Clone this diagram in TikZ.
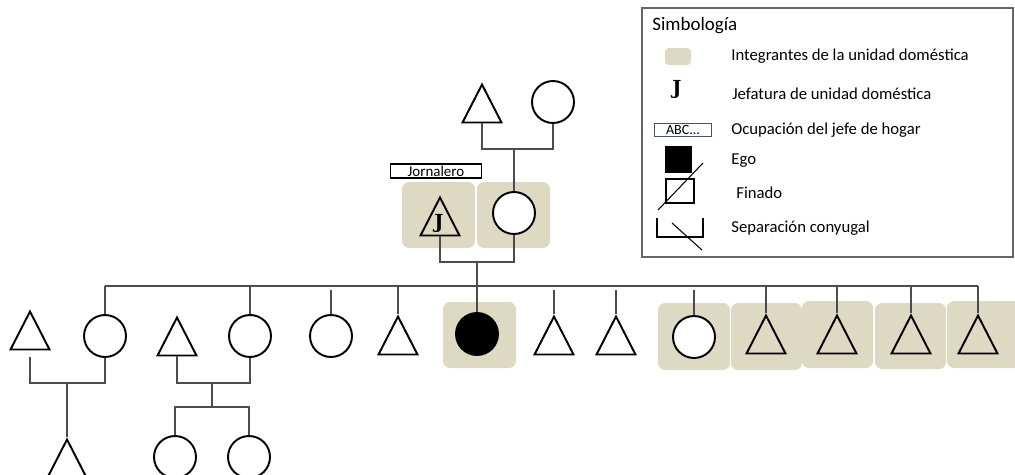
\documentclass[tikz,border=0pt]{standalone}
\usepackage{fontspec}
\setmainfont{Carlito}
\newfontfamily\jfont{DejaVu Serif}
\usetikzlibrary{shapes.geometric}
\definecolor{unitbg}{RGB}{221,217,195}
\definecolor{occline}{RGB}{68,84,106}

\begin{document}
\begin{tikzpicture}[x=0.02cm, y=-0.02cm,
    male/.style={isosceles triangle, isosceles triangle stretches, shape border rotate=90,
      anchor=apex, draw, line width=1.1pt, inner sep=0pt, minimum width=0.78cm, minimum height=0.76cm},
    female/.style={circle, draw, fill=white, line width=1.1pt, inner sep=0pt, minimum size=0.84cm},
    link/.style={draw=black!70, line width=0.75pt},
    unit/.style={fill=unitbg, rounded corners=4pt},
    legtext/.style={anchor=west, inner sep=0pt, font=\fontsize{9.5}{10}\selectfont},
    jefe/.style={inner sep=0pt, font=\jfont\bfseries\fontsize{11}{11}\selectfont}]
    \clip (0,0) rectangle (1015,474);

    \fill [unit] (402,182) rectangle (475,248);
    \fill [unit] (477,182) rectangle (550,248);
    \fill [unit] (443,302) rectangle (516,368);
    \fill [unit] (658,303) rectangle (730,370);
    \fill [unit] (731,303) rectangle (802,370);
    \fill [unit] (802,301) rectangle (873,368);
    \fill [unit] (875,303) rectangle (946,369);
    \fill [unit] (947,301) rectangle (1025,368);

    \node [male] (gf) at (482,82) {};
    \node [female] (gm) at (553,102) {};
    \node [male] (fa) at (440,195) {};
    \node [jefe] (jf) at (439,223) {J};
    \node [female] (mo) at (514,213) {};
    \node [draw, line width=1.1pt, inner sep=0pt, minimum width=1.82cm, minimum height=0.27cm,
      font=\fontsize{8.5}{9}\selectfont] (occ) at (436,171) {Jornalero};

    \node [male] (sp1) at (30,309) {};
    \node [female] (c1) at (105,336) {};
    \node [male] (sp2) at (177,315) {};
    \node [female] (c2) at (250,336) {};
    \node [female] (c3) at (331,336) {};
    \node [male] (c4) at (398,314) {};
    \node [female, fill=black] (ego) at (477,334) {};
    \node [male] (c5) at (554,314) {};
    \node [male] (c6) at (616,314) {};
    \node [female] (c7) at (694,337) {};
    \node [male] (c8) at (766,313) {};
    \node [male] (c9) at (837,313) {};
    \node [male] (c10) at (911,313) {};
    \node [male] (c11) at (978,313) {};

    \node [male] (gc1) at (67,437) {};
    \node [female] (gc2) at (175,457) {};
    \node [female] (gc3) at (249,457) {};

    \coordinate (gp) at (514,149);
    \draw [link] (gf.south) |- (gp) -| (gm.south);
    \draw [link] (gp) -- (mo.north);

    \coordinate (pp) at (477,262);
    \coordinate (sib) at (477,286);
    \draw [link] (fa.south) |- (pp) -| (mo.south);
    \draw [link] (pp) -- (ego.north);
    \draw [link] (c1.north |- sib) -- (c11.north |- sib);
    \foreach \c in {c1,c2,c4,c8,c9,c10,c11}
      \draw [link] (\c.north |- sib) -- (\c.north);
    \foreach \c in {c3,c5,c6,c7}
      \draw [link, shorten <=2pt] (\c.north |- sib) -- (\c.north);

    \coordinate (f1) at (67,383);
    \draw [link, shorten <=0.13cm] (sp1.south) |- (f1) -| (c1.south);
    \draw [link] (f1) -- (gc1.north);

    \coordinate (f2) at (212,383);
    \coordinate (f2b) at (212,407);
    \draw [link] (sp2.south) |- (f2) -| (c2.south);
    \draw [link] (f2) -- (f2b);
    \draw [link] (gc2.north) |- (f2b) -| (gc3.north);

    \draw [black!60, line width=0.7pt] (642,8) rectangle (1013,257);
    \node [anchor=west, inner sep=0pt, font=\fontsize{10.8}{12}\selectfont] (title) at (652,26) {Simbología};
    \fill [unitbg, rounded corners=2pt] (665,48) rectangle (691,65);
    \node [legtext] (l1) at (731,56) {Integrantes de la unidad doméstica};
    \node [jefe] (kj) at (677,89) {J};
    \node [legtext] (l2) at (732,94) {Jefatura de unidad doméstica};
    \node [draw=occline, line width=0.8pt, inner sep=0pt, minimum width=1.14cm, minimum height=0.25cm,
      font=\fontsize{8}{8}\selectfont] (kocc) at (683,130) {ABC...};
    \node [legtext] (l3) at (731,130) {Ocupación del jefe de hogar};
    \fill (665,146) rectangle (692,173);
    \node [legtext] (l4) at (731,161) {Ego};
    \draw [line width=1.1pt] (666,179) rectangle (694,203);
    \draw [line width=0.6pt] (658,210) -- (703,163);
    \node [legtext] (l5) at (736,193) {Finado};
    \draw [line width=0.6pt] (657,218) |- (703,237) -- (703,218);
    \draw [line width=0.6pt] (672,223) -- (702,250);
    \node [legtext] (l6) at (731,228) {Separación conyugal};
\end{tikzpicture}
\end{document}
